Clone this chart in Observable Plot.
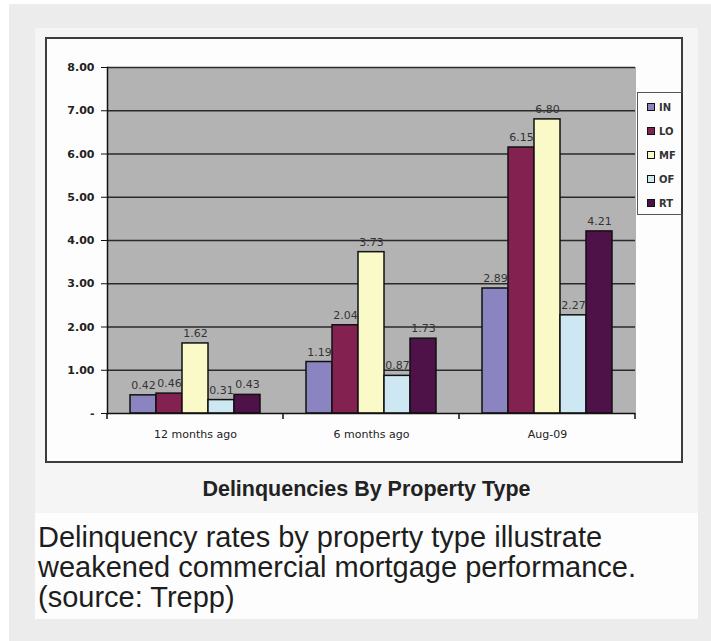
<!DOCTYPE html>
<html><head><meta charset="utf-8">
<script src="https://cdn.jsdelivr.net/npm/d3@7"></script>
<script src="https://cdn.jsdelivr.net/npm/@observablehq/plot@0.6"></script>
<style>
html,body{margin:0;padding:0;background:#fff;}
#page{position:relative;width:711px;height:641px;overflow:hidden;background:#fff;font-family:"Liberation Sans",Arial,sans-serif;}
#outer{position:absolute;left:9px;top:4px;right:0;bottom:0;background:#ececec;}
#panel{position:absolute;left:35px;top:28px;width:663px;height:485px;background:#f5f5f5;}
#capbg{position:absolute;left:35px;top:513px;width:663px;height:106px;background:#fdfdfd;}
#chartbox{position:absolute;left:45px;top:37px;width:634px;height:422px;border:2px solid #3c3c3c;background:#fdfdfd;}
#chartbox svg{position:absolute;left:0;top:0;}
#legend{position:absolute;left:637px;top:92px;width:43px;height:119px;border:1px solid #555;border-right:2px solid #333;background:#fdfdfd;padding-top:2px;box-sizing:content-box;}
#legend .item{height:24px;display:flex;align-items:center;padding-left:9px;font-family:"DejaVu Sans",Verdana,sans-serif;font-size:10px;font-weight:bold;color:#333;}
#legend .sw{display:inline-block;width:6px;height:6px;border:1px solid #111;margin-right:4px;}
#title{position:absolute;left:35px;top:477px;width:663px;text-align:center;font-family:"Liberation Sans",Arial,sans-serif;font-weight:bold;font-size:21.5px;line-height:24px;color:#222;}
#caption{position:absolute;left:38px;top:522px;font-family:"Liberation Sans",Arial,sans-serif;font-size:29px;line-height:30px;color:#1e1e1e;}
</style></head>
<body>
<div id="page">
  <div id="outer"></div>
  <div id="panel"></div>
  <div id="capbg"></div>
  <div id="chartbox"></div>
  <div id="legend"></div>
  <div id="title">Delinquencies By Property Type</div>
  <div id="caption">Delinquency rates by property type illustrate<br>weakened commercial mortgage performance.<br>(source: Trepp)</div>
</div>
<script>
const periods = ["12 months ago", "6 months ago", "Aug-09"];
const types = ["IN", "LO", "MF", "OF", "RT"];
const IN = [0.42, 1.19, 2.89];
const LO = [0.46, 2.04, 6.15];
const MF = [1.62, 3.73, 6.80];
const OF = [0.31, 0.87, 2.27];
const RT = [0.43, 1.73, 4.21];
const colors = ["#8a84c0", "#832150", "#fafac8", "#cde8f2", "#4e1249"];
const yTicks = [0, 1, 2, 3, 4, 5, 6, 7, 8];

const series = {IN, LO, MF, OF, RT};
const data = periods.flatMap((p, i) => types.map(t => ({period: p, type: t, value: series[t][i]})));

const chart = Plot.plot({
  width: 634, height: 422,
  marginLeft: 59, marginRight: 45, marginTop: 28, marginBottom: 48,
  style: {background: "transparent", fontFamily: "'DejaVu Sans', Verdana, sans-serif", fontSize: "10px", color: "#222"},
  fx: {domain: periods, padding: 0, label: null},
  x: {domain: types, paddingInner: 0, paddingOuter: 0.78, axis: null},
  y: {domain: [0, 8], label: null},
  color: {domain: types, range: colors},
  marks: [
    Plot.frame({fill: "#b3b3b3", stroke: "#b3b3b3", strokeWidth: 1}),
    Plot.ruleY(yTicks.filter(d => d > 0), {stroke: "#2a2a2a", strokeWidth: 1.5}),
    Plot.barY(data, {fx: "period", x: "type", y: "value", fill: "type", stroke: "#111", strokeWidth: 1.5}),
    Plot.text(data, {fx: "period", x: "type", y: "value", text: d => d.value.toFixed(2), dy: -10, fill: "#333", fontSize: 11}),
    Plot.ruleY([0], {stroke: "#111", strokeWidth: 1.5}),
    Plot.frame({anchor: "left", stroke: "#111", strokeWidth: 1.5, facetAnchor: "left"}),
    Plot.axisY({ticks: yTicks, tickFormat: d => d === 0 ? "-" : d.toFixed(2), tickSize: 6, tickPadding: 7, fontWeight: "bold", fontSize: 11, stroke: "#111", label: null}),
    Plot.axisFx({anchor: "bottom", tickSize: 0, tickPadding: 17, label: null, fontSize: 11})
  ]
});
document.getElementById("chartbox").appendChild(chart);

// category boundary tick marks, positioned from the fx scale
const fx = chart.scale("fx");
const yS = chart.scale("y");
const bw = fx.bandwidth;
const bounds = periods.map(p => fx.apply(p)).concat([fx.apply(periods[periods.length - 1]) + bw]);
d3.select(chart).append("g").selectAll("line").data(bounds).join("line")
  .attr("x1", d => d).attr("x2", d => d)
  .attr("y1", yS.apply(0)).attr("y2", yS.apply(0) + 6)
  .attr("stroke", "#111").attr("stroke-width", 1.5);

// legend
const leg = document.getElementById("legend");
types.forEach((t, i) => {
  const row = document.createElement("div");
  row.className = "item";
  const sw = document.createElement("span");
  sw.className = "sw";
  sw.style.background = colors[i];
  row.appendChild(sw);
  row.appendChild(document.createTextNode(t));
  leg.appendChild(row);
});
</script>
</body></html>
